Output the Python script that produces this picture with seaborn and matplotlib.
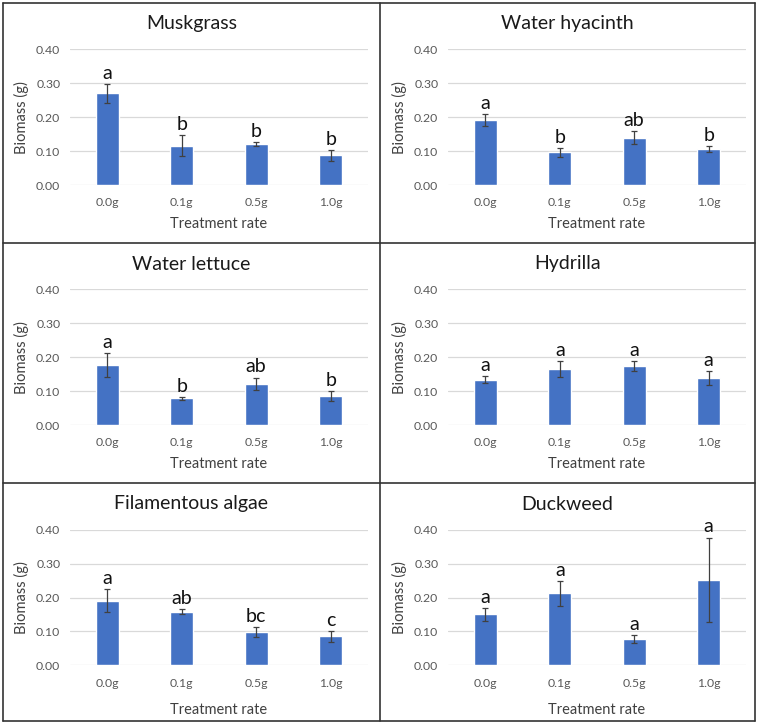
import numpy as np
import pandas as pd
import matplotlib
matplotlib.use('Agg')
import matplotlib.pyplot as plt
import seaborn as sns
from matplotlib.lines import Line2D

rates = ['0.0g', '0.1g', '0.5g', '1.0g']
titles = ['Muskgrass', 'Water hyacinth', 'Water lettuce', 'Hydrilla',
          'Filamentous algae', 'Duckweed']

muskgrass = [0.270, 0.116, 0.121, 0.087]
muskgrass_err = [0.028, 0.031, 0.005, 0.015]
muskgrass_sig = ['a', 'b', 'b', 'b']

hyacinth = [0.191, 0.096, 0.140, 0.105]
hyacinth_err = [0.018, 0.013, 0.020, 0.009]
hyacinth_sig = ['a', 'b', 'ab', 'b']

lettuce = [0.177, 0.079, 0.121, 0.085]
lettuce_err = [0.035, 0.004, 0.019, 0.014]
lettuce_sig = ['a', 'b', 'ab', 'b']

hydrilla = [0.133, 0.165, 0.174, 0.138]
hydrilla_err = [0.010, 0.023, 0.014, 0.020]
hydrilla_sig = ['a', 'a', 'a', 'a']

algae = [0.191, 0.158, 0.099, 0.086]
algae_err = [0.033, 0.007, 0.014, 0.016]
algae_sig = ['a', 'ab', 'bc', 'c']

duckweed = [0.151, 0.212, 0.077, 0.253]
duckweed_err = [0.019, 0.038, 0.012, 0.124]
duckweed_sig = ['a', 'a', 'a', 'a']

means = [muskgrass, hyacinth, lettuce, hydrilla, algae, duckweed]
errs = [muskgrass_err, hyacinth_err, lettuce_err, hydrilla_err, algae_err, duckweed_err]
sigs = [muskgrass_sig, hyacinth_sig, lettuce_sig, hydrilla_sig, algae_sig, duckweed_sig]

sns.set_style('white')
plt.rcParams['font.family'] = ['Lato', 'DejaVu Sans']

W, H = 760, 726
fig = plt.figure(figsize=(W / 100, H / 100), dpi=100)

blue = '#4472C4'
ax_left = [70, 448]
ax_top = [49.3, 289.3, 529.7]
ax_w, ax_h = 298, 135.7
panel_x = [3, 380, 755]
panel_y = [3, 243, 483, 721]

for i in range(6):
    r, c = divmod(i, 2)
    ax = fig.add_axes([ax_left[c] / W, 1 - (ax_top[r] + ax_h) / H, ax_w / W, ax_h / H])
    df = pd.DataFrame({'rate': rates, 'biomass': means[i]})
    sns.barplot(data=df, x='rate', y='biomass', color=blue, saturation=1,
                width=0.31, errorbar=None, ax=ax, zorder=2)
    ax.errorbar(range(4), means[i], yerr=errs[i], fmt='none', ecolor='#404040',
                elinewidth=0.9, capsize=2.2, capthick=0.9, zorder=3)
    for j in range(4):
        ax.annotate(sigs[i][j], (j, means[i][j] + errs[i][j]), xytext=(0, 1.5),
                    textcoords='offset points', ha='center', va='bottom',
                    fontsize=14, color='#111111', annotation_clip=False)
    ax.set_ylim(0, 0.4)
    ax.set_xlim(-0.5, 3.5)
    ax.set_yticks([0, 0.1, 0.2, 0.3, 0.4])
    ax.set_yticklabels(['%.2f' % v for v in [0, 0.1, 0.2, 0.3, 0.4]])
    ax.yaxis.grid(True, color='#D9D9D9', lw=0.9)
    ax.set_axisbelow(True)
    for s in ax.spines.values():
        s.set_visible(False)
    ax.tick_params(axis='both', length=0, labelsize=8.8, labelcolor='#595959')
    ax.tick_params(axis='x', pad=9)
    ax.tick_params(axis='y', pad=7)
    ax.set_ylabel('Biomass (g)', fontsize=10.5, color='#404040', labelpad=5)
    ax.set_xlabel('Treatment rate', fontsize=10.5, color='#404040',
                  labelpad=10 if r == 2 else 6)
    cx = (panel_x[c] + panel_x[c + 1]) / 2
    fig.text(cx / W, 1 - (panel_y[r] + 21) / H, titles[i], ha='center', va='center',
             fontsize=14, color='#1a1a1a')

# panel borders
for x in panel_x:
    fig.add_artist(Line2D([x / W, x / W], [1 - panel_y[0] / H, 1 - panel_y[-1] / H],
                          color='#333333', lw=1.2))
for y in panel_y:
    fig.add_artist(Line2D([panel_x[0] / W, panel_x[-1] / W], [1 - y / H, 1 - y / H],
                          color='#333333', lw=1.2))

fig.savefig('out.png', dpi=100, facecolor='white')
